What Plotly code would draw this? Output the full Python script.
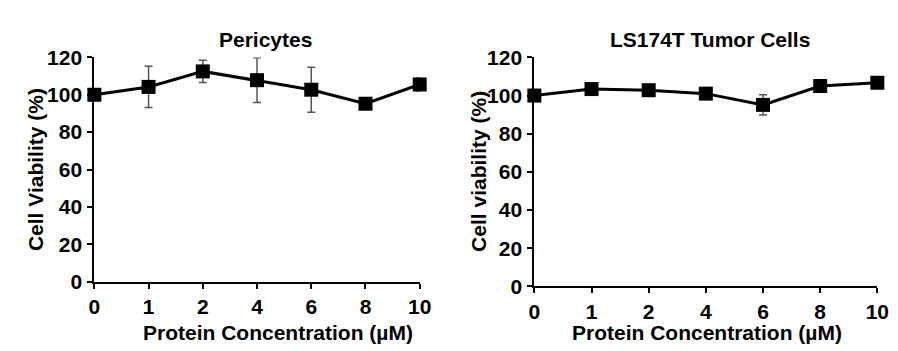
import plotly.graph_objects as go

# ---- data ----
concentrations = ["0", "1", "2", "4", "6", "8", "10"]
pericytes_viability = [100, 104.2, 112.5, 107.8, 102.7, 95.2, 105.5]
pericytes_error = [0, 11, 6, 12, 12, 1, 3.5]
tumor_viability = [100, 103.4, 102.8, 101.0, 95.1, 105.0, 106.7]
tumor_error = [0, 1, 1, 1, 5.3, 1, 2]
y_ticks = [0, 20, 40, 60, 80, 100, 120]

FONT = "Arial, 'Liberation Sans', sans-serif"
W, H = 898, 351

def px_x(p):
    return p / W

def px_y(p):
    return 1 - p / H

idx = list(range(len(concentrations)))

fig = go.Figure()

for i, (vals, errs) in enumerate([(pericytes_viability, pericytes_error),
                                  (tumor_viability, tumor_error)]):
    sfx = "" if i == 0 else str(i + 1)
    fig.add_trace(go.Scatter(
        x=idx, y=vals,
        xaxis="x" + sfx, yaxis="y" + sfx,
        mode="lines+markers",
        line=dict(color="black", width=3),
        marker=dict(symbol="square", size=14, color="black"),
        error_y=dict(type="data", array=errs, visible=True,
                     color="#555555", thickness=1.5, width=4),
        cliponaxis=False,
        showlegend=False,
    ))

axis_common = dict(
    showline=True, linecolor="black", linewidth=2,
    ticks="outside", ticklen=5, tickwidth=2, tickcolor="black",
    showgrid=False, zeroline=False,
    tickfont=dict(family=FONT, size=21, color="black", weight="bold"),
)

fig.update_layout(
    width=W, height=H,
    margin=dict(l=0, r=0, t=0, b=0),
    paper_bgcolor="white", plot_bgcolor="white",
    xaxis=dict(domain=[px_x(82), px_x(414)], range=[0, 6],
               tickvals=idx, ticktext=concentrations, anchor="y",
               ticklabelstandoff=0, **axis_common),
    yaxis=dict(domain=[px_y(280), px_y(40)], range=[0, 120],
               tickvals=y_ticks, anchor="x", ticklabelstandoff=1, **axis_common),
    xaxis2=dict(domain=[px_x(531), px_x(881)], range=[0, 6],
                tickvals=idx, ticktext=concentrations, anchor="y2",
                ticklabelstandoff=0, **axis_common),
    yaxis2=dict(domain=[px_y(285), px_y(40)], range=[0, 120],
                tickvals=y_ticks, anchor="x2", ticklabelstandoff=1, **axis_common),
)

def label(text, x, y, angle=0, size=21):
    fig.add_annotation(
        text=text, x=px_x(x), y=px_y(y), xref="paper", yref="paper",
        showarrow=False, textangle=angle, xanchor="center", yanchor="middle",
        font=dict(family=FONT, size=size, color="black", weight="bold"),
    )

label("Pericytes", 257, 21)
label("LS174T Tumor Cells", 710, 21)
label("Protein Concentration (µM)", 269, 334)
label("Protein Concentration (µM)", 707, 334)
label("Cell Viability (%)", 22, 160, angle=-90)
label("Cell viability (%)", 474, 162, angle=-90)

fig.write_html("out.html")
